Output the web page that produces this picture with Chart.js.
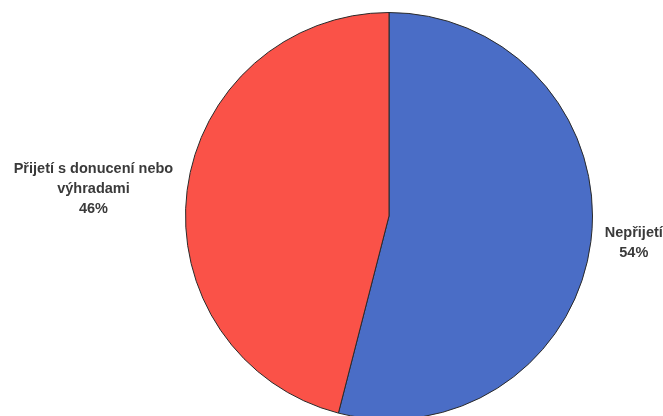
<!DOCTYPE html>
<html>
<head>
<meta charset="utf-8">
<script src="https://cdn.jsdelivr.net/npm/chart.js@4/dist/chart.umd.min.js"></script>
<style>
  html, body { margin: 0; padding: 0; background: #fff; overflow: hidden; }
  #wrap { width: 663px; height: 430px; }
</style>
</head>
<body>
<div id="wrap"><canvas id="myChart" width="663" height="430"></canvas></div>
<script>
// slice data, clockwise from 12 o'clock
let labels = ['Nepřijetí', 'Přijetí s donucení nebo výhradami']
let labelLines = [['Nepřijetí'], ['Přijetí s donucení nebo', 'výhradami']]
let values = [54, 46]
let colors = ['#4A6DC6', '#FA5248']

// outside labels like the office chart: name + percent
const outLabels = {
    id: 'outLabels',
    afterDatasetsDraw(chart) {
        let ctx = chart.ctx
        let meta = chart.getDatasetMeta(0)
        let total = values.reduce((a, b) => a + b, 0)
        ctx.save()
        ctx.font = 'bold 14.5px "Liberation Sans", Arial, sans-serif'
        ctx.fillStyle = '#3a3a3a'
        ctx.textBaseline = 'middle'
        meta.data.forEach((arc, i) => {
            let p = arc.getProps(['x', 'y', 'startAngle', 'endAngle', 'outerRadius'], true)
            let mid = (p.startAngle + p.endAngle) / 2
            let r = p.outerRadius + 14
            let px = p.x + Math.cos(mid) * r
            let py = p.y + Math.sin(mid) * r
            let lines = labelLines[i].concat([Math.round(values[i] / total * 100) + '%'])
            let w = Math.max(...lines.map(l => ctx.measureText(l).width))
            let lh = 20
            let cx = Math.cos(mid) >= 0 ? px + w / 2 : px - w / 2
            let top = py - (lines.length - 1) * lh / 2
            ctx.textAlign = 'center'
            lines.forEach((l, j) => ctx.fillText(l, cx, top + j * lh))
        })
        ctx.restore()
    }
}

new Chart(document.getElementById('myChart'), {
    type: 'pie',
    data: {
        labels: labels,
        datasets: [{
            data: values,
            backgroundColor: colors,
            borderColor: '#2a2a2a',
            borderWidth: 1
        }]
    },
    options: {
        responsive: false,
        animation: false,
        layout: { padding: { left: 185, right: 70, top: 12, bottom: 10 } },
        plugins: {
            legend: { display: false },
            tooltip: { enabled: false }
        }
    },
    plugins: [outLabels]
})
</script>
</body>
</html>
